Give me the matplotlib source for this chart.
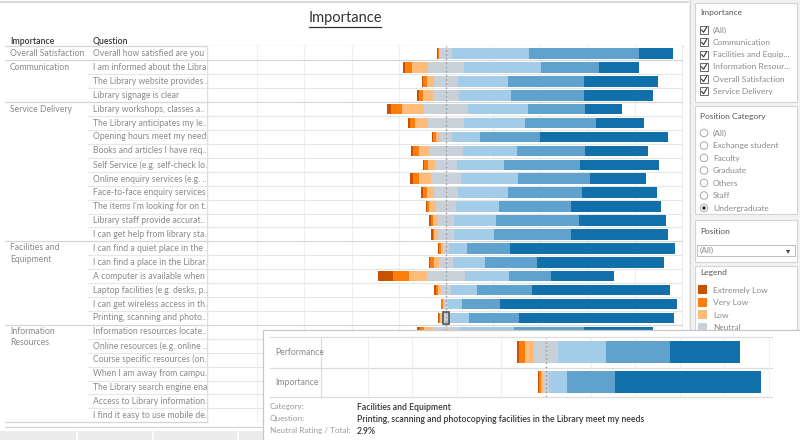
import matplotlib
matplotlib.use("Agg")
import matplotlib.pyplot as plt
from matplotlib.patches import Rectangle, Circle
import numpy as np

plt.rcParams['font.family'] = ['Lato', 'DejaVu Sans']

# ---------------- data ----------------
categories = ["Overall Satisfaction", "Communication", "Service Delivery",
              "Facilities and\nEquipment", "Information\nResources"]
category_sizes = [1, 3, 10, 6, 7]

questions = [
    "Overall how satisfied are you ..",
    "I am informed about the Libra..",
    "The Library website provides ..",
    "Library signage is clear",
    "Library workshops, classes a..",
    "The Library anticipates my le..",
    "Opening hours meet my needs",
    "Books and articles I have req..",
    "Self Service (e.g. self-check lo..",
    "Online enquiry services (e.g. ..",
    "Face-to-face enquiry services ..",
    "The items I'm looking for on t..",
    "Library staff provide accurat..",
    "I can get help from library sta..",
    "I can find a quiet place in the ..",
    "I can find a place in the Librar..",
    "A computer is available when ..",
    "Laptop facilities (e.g. desks, p..",
    "I can get wireless access in th..",
    "Printing, scanning and photo..",
    "Information resources locate..",
    "Online resources (e.g. online ..",
    "Course specific resources (on..",
    "When I am away from campu..",
    "The Library search engine ena..",
    "Access to Library information..",
    "I find it easy to use mobile de..",
]

levels = ["Extremely Low", "Very Low", "Low", "Neutral", "High", "Very High", "Extremely High"]
level_colors = ["#c85200", "#fc7d0b", "#ffbc79", "#c8d0d9", "#a3cce9", "#5fa2ce", "#1170aa"]

# percentages per question (rows in the order of `questions`)
extremely_low = [0.4, 0.9, 0.4, 0.7, 1.8, 0.9, 0.6, 0.9, 0.6, 1.1, 0.7, 0.4, 0.6, 0.6,
                 0.3, 0.6, 6.6, 0.7, 0.1, 0.3, 1.1, 0.5, 0.8, 0.6, 0.7, 0.5, 1.5]
very_low = [0.7, 3.1, 1.6, 1.8, 4.7, 2.1, 1.0, 2.5, 1.6, 2.5, 1.7, 1.0, 1.0, 0.6,
            0.7, 1.8, 6.6, 1.1, 0.7, 0.8, 1.8, 1.2, 1.5, 1.4, 1.6, 1.2, 2.5]
low = [0.3, 6.6, 3.0, 4.1, 9.2, 5.6, 1.6, 4.1, 3.0, 5.2, 3.0, 2.8, 2.0, 1.4,
       1.0, 2.1, 7.5, 1.0, 0.4, 0.9, 3.8, 2.0, 3.0, 2.5, 3.2, 2.8, 4.5]
neutral = [5.2, 15.4, 10.2, 11.0, 18.8, 14.9, 5.5, 14.4, 9.3, 12.7, 10.4, 8.7, 7.1, 7.1,
           2.4, 5.8, 16.5, 4.5, 2.0, 2.9, 11.0, 6.0, 8.0, 7.5, 9.0, 8.5, 14.0]
high = [32.4, 32.6, 21.1, 22.1, 25.5, 26.1, 11.6, 22.7, 19.9, 24.0, 21.0, 18.3, 17.5, 16.9,
        7.9, 13.8, 18.5, 10.7, 5.9, 8.1, 23.2, 15.0, 18.0, 17.0, 20.0, 19.0, 22.0]
very_high = [46.8, 24.5, 32.1, 30.7, 23.8, 30.2, 25.5, 29.2, 32.1, 30.6, 31.3, 30.4, 35.4, 32.4,
             17.9, 22.0, 17.8, 23.3, 16.1, 21.5, 29.6, 30.0, 30.0, 31.0, 31.0, 32.0, 28.0]
extremely_high = [14.5, 16.9, 31.4, 29.3, 15.9, 20.2, 54.1, 26.5, 33.8, 24.0, 32.1, 38.2, 36.9, 41.4,
                  70.0, 53.7, 26.5, 58.6, 74.8, 65.5, 29.6, 45.3, 38.7, 40.0, 34.5, 36.0, 27.5]

# tooltip (selected question: Printing, scanning and photocopying ...)
tooltip_rows = ["Performance", "Importance"]
tooltip_performance = [0.9, 2.7, 3.7, 11.2, 21.4, 28.4, 31.7]
tooltip_importance = [0.3, 0.8, 0.9, 2.9, 8.1, 21.5, 65.5]
selected_row = 19

position_categories = ["(All)", "Exchange student", "Faculty", "Graduate", "Others", "Staff", "Undergraduate"]
importance_filter = ["(All)", "Communication", "Facilities and Equip...", "Information Resour...",
                     "Overall Satisfaction", "Service Delivery"]

W, H = 800, 440
fig = plt.figure(figsize=(8, 4.4), dpi=100)
fig.patch.set_facecolor("white")

def frac(x0, y0, x1, y1):
    return [x0 / W, 1 - y1 / H, (x1 - x0) / W, (y1 - y0) / H]

# ---------------- background (pixel coords) ----------------
bg = fig.add_axes([0, 0, 1, 1])
bg.set_xlim(0, W); bg.set_ylim(H, 0); bg.axis("off")

TXT = "#333333"
GRY = "#8a8a8a"
FS = 6.2

bg.plot([0, 688], [2, 2], color="#cfcfcf", lw=1.2)
bg.text(345, 18, "Importance", ha="center", va="center", fontsize=10.5, color=TXT)
bg.plot([309, 381], [27.5, 27.5], color=TXT, lw=0.9)

bg.text(10, 41, "Importance", ha="left", va="center", fontsize=FS, color=TXT, fontweight="semibold")
bg.text(93, 41, "Question", ha="left", va="center", fontsize=FS, color=TXT, fontweight="semibold")

top, pitch = 46.5, 13.92
n = len(questions)
bottom = top + n * pitch
bg.plot([5, 683], [top, top], color="#d6d6d6", lw=0.9)
# row separators in label column
for i in range(1, n + 1):
    y = top + i * pitch
    bg.plot([88, 207], [y, y], color="#e6e6e6", lw=0.8)
# category separators + labels
start = 0
for cat, size in zip(categories, category_sizes):
    y0 = top + start * pitch
    if "\n" in cat:
        bg.text(10, y0 + 1.8, cat, ha="left", va="top", fontsize=FS, color=GRY, linespacing=1.35)
    else:
        bg.text(10, y0 + pitch / 2, cat, ha="left", va="center", fontsize=FS, color=GRY)
    start += size
    y1 = top + start * pitch
    bg.plot([5, 207], [y1, y1], color="#d6d6d6", lw=0.9)
for i, q in enumerate(questions):
    bg.text(93, top + (i + 0.5) * pitch, q, ha="left", va="center", fontsize=FS, color=GRY)

# right panel
bg.add_patch(Rectangle((689, 0), 111, H, facecolor="#f2f2f2", edgecolor="none"))
bg.plot([689.5, 689.5], [0, H], color="#d9d9d9", lw=1)
cards = [(3, 102), (106, 214), (220, 262), (266, 445)]
for (cy0, cy1) in cards:
    bg.add_patch(Rectangle((695, cy0), 102, cy1 - cy0, facecolor="white", edgecolor="#d4d4d4", lw=0.8))
CFS = 6.0
bg.text(700, 12, "Importance", fontsize=CFS, color="#555555", va="center")
for k, lab in enumerate(importance_filter):
    y = 30 + k * 12.3
    bg.add_patch(Rectangle((700, y - 4), 8, 8, facecolor="white", edgecolor="#666666", lw=0.7))
    bg.plot([701.6, 703.6, 706.6], [y, y + 2.3, y - 2.8], color="#333333", lw=0.8)
    bg.text(713, y, lab, fontsize=CFS, color=GRY, va="center")
bg.text(700, 116, "Position Category", fontsize=CFS, color="#555555", va="center")
for k, lab in enumerate(position_categories):
    y = 133 + k * 12.5
    bg.add_patch(Circle((704, y), 3.8, facecolor="white", edgecolor="#aaaaaa", lw=0.7))
    if lab == "Undergraduate":
        bg.add_patch(Circle((704, y), 1.8, facecolor="#333333", edgecolor="none"))
    bg.text(713, y, lab, fontsize=CFS, color=GRY, va="center")
bg.text(700, 232, "Position", fontsize=CFS, color="#555555", va="center")
bg.add_patch(Rectangle((697, 245), 98, 11, facecolor="white", edgecolor="#bdbdbd", lw=0.7))
bg.text(700, 250.5, "(All)", fontsize=CFS, color=GRY, va="center")
bg.text(788, 250.5, "\u25BE", fontsize=6, color="#444444", va="center", ha="center",
        family=["DejaVu Sans"])
bg.text(700, 273, "Legend", fontsize=CFS, color="#555555", va="center")
for k, (lab, col) in enumerate(zip(levels, level_colors)):
    y = 290 + k * 12.5
    bg.add_patch(Rectangle((698, y - 4.5), 9, 9, facecolor=col, edgecolor="none"))
    bg.text(713, y, lab, fontsize=CFS, color=GRY, va="center")

# bottom tab strip
bg.plot([5, 263], [427, 427], color="#d0d0d0", lw=0.8)
bg.add_patch(Rectangle((0, 431), 263, 12, facecolor="#ececec", edgecolor="none"))
for xs in [77, 153, 238]:
    bg.plot([xs, xs], [431, 440], color="#ffffff", lw=1.2)

# ---------------- main chart ----------------
ax = fig.add_axes(frac(207, top, 683, bottom))
zero_px, ppu = 446.0, 2.36
ax.set_xlim((207 - zero_px) / ppu, (683 - zero_px) / ppu)
ax.set_ylim(n - 0.5, -0.5)
for s in ax.spines.values():
    s.set_visible(False)
ax.set_xticks([]); ax.set_yticks([])
for gx in range(-80, 101, 20):
    ax.axvline(gx, color="#efefef", lw=0.8, zorder=0)
ax.axvline(ax.get_xlim()[0], color="#dddddd", lw=1.0, zorder=0)
ax.axvline(ax.get_xlim()[1] - 0.2, color="#e4e4e4", lw=1.0, zorder=0)
bounds = np.cumsum(category_sizes)
for i in range(n):
    col = "#d6d6d6" if (i + 1) in bounds else "#e6e6e6"
    ax.axhline(i + 0.5, color=col, lw=0.8, zorder=0)

series = [extremely_low, very_low, low, neutral, high, very_high, extremely_high]
vals = np.array(series).T  # rows x levels
lefts = -(vals[:, 0] + vals[:, 1] + vals[:, 2] + vals[:, 3] / 2)
ypos = np.arange(n)
cur = lefts.copy()
for j, col in enumerate(level_colors):
    ax.barh(ypos, vals[:, j], left=cur, height=0.76, color=col, edgecolor="none", zorder=2)
    cur = cur + vals[:, j]
ax.axvline(0, color="#a0a0a0", lw=1.0, ls=(0, (1.2, 1.8)), zorder=3)
# selected neutral mark
sel_left = lefts[selected_row] + vals[selected_row, :3].sum()
ax.add_patch(Rectangle((sel_left, selected_row - 0.4), vals[selected_row, 3], 0.8,
                       facecolor="none", edgecolor="#555555", lw=1.2, zorder=4))

# ---------------- tooltip ----------------
tt = fig.add_axes([0, 0, 1, 1])
tt.set_xlim(0, W); tt.set_ylim(H, 0); tt.axis("off"); tt.patch.set_alpha(0)
tt.add_patch(Rectangle((265, 332), 540, 120, facecolor="#e8e8e8", edgecolor="none"))
tt.add_patch(Rectangle((263, 330), 540, 120, facecolor="white", edgecolor="#c8c8c8", lw=0.9))
tt.plot([270, 772], [337, 337], color="#dcdcdc", lw=0.9)
tt.plot([270, 772], [368, 368], color="#dcdcdc", lw=0.9)
tt.plot([270, 772], [397, 397], color="#dcdcdc", lw=0.9)
tt.plot([321, 321], [337, 397], color="#dcdcdc", lw=0.9)
tt.text(275, 352.5, tooltip_rows[0], fontsize=6.2, color=GRY, va="center")
tt.text(275, 382.5, tooltip_rows[1], fontsize=6.2, color=GRY, va="center")
LFS, VFS = 5.9, 6.2
tt.text(270, 407, "Category:", fontsize=LFS, color="#9a9a9a", va="center")
tt.text(270, 419, "Question:", fontsize=LFS, color="#9a9a9a", va="center")
tt.text(270, 431, "Neutral Rating / Total:", fontsize=LFS, color="#9a9a9a", va="center")
tt.text(357, 407, "Facilities and Equipment", fontsize=VFS, color=TXT, va="center", fontweight="semibold")
tt.text(357, 419, "Printing, scanning and photocopying facilities in the Library meet my needs",
        fontsize=VFS, color=TXT, va="center", fontweight="semibold")
tt.text(357, 431, "%.1f%%" % tooltip_importance[3], fontsize=VFS, color=TXT, va="center", fontweight="semibold")

mx = fig.add_axes(frac(321, 337.5, 772, 396.5))
mz, mppu = 546.0, 2.23
mx.set_xlim((321 - mz) / mppu, (772 - mz) / mppu)
mx.set_ylim(1.5, -0.5)
mx.patch.set_alpha(0)
for s in mx.spines.values():
    s.set_visible(False)
mx.set_xticks([]); mx.set_yticks([])
for gx in range(-80, 101, 20):
    if gx != 0:
        mx.axvline(gx, color="#efefef", lw=0.8, zorder=0)
tv = np.array([tooltip_performance, tooltip_importance])
tl = -(tv[:, 0] + tv[:, 1] + tv[:, 2] + tv[:, 3] / 2)
cur = tl.copy()
for j, col in enumerate(level_colors):
    mx.barh([0, 1], tv[:, j], left=cur, height=0.74, color=col, edgecolor="none", zorder=2)
    cur = cur + tv[:, j]
mx.axvline(0, color="#a0a0a0", lw=1.0, ls=(0, (1.2, 1.8)), zorder=3)

fig.savefig("out.png", dpi=100)
